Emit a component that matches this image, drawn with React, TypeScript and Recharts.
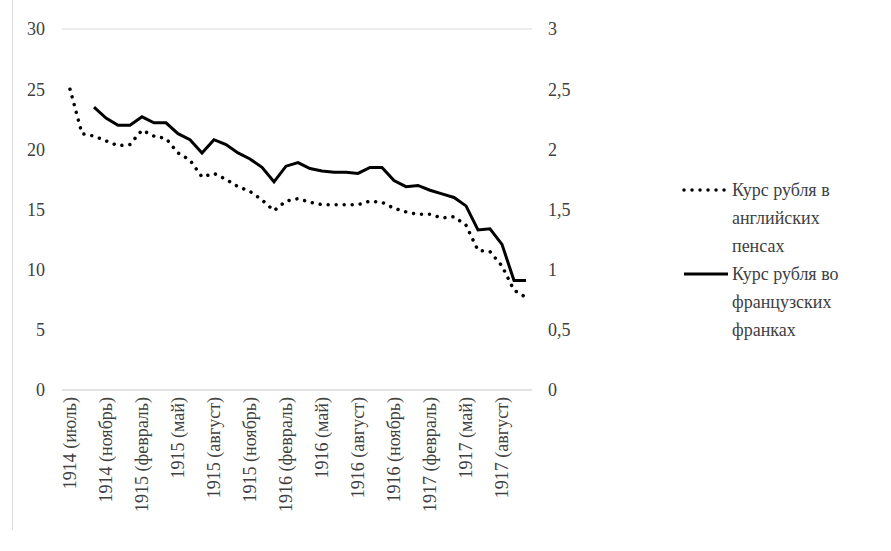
import { CartesianGrid, Legend, Line, LineChart, XAxis, YAxis } from 'recharts';

const months = [
  '1914 (июль)', '1914 (сентябрь)', '1914 (октябрь)', '1914 (ноябрь)', '1914 (декабрь)',
  '1915 (январь)', '1915 (февраль)', '1915 (март)', '1915 (апрель)', '1915 (май)',
  '1915 (июнь)', '1915 (июль)', '1915 (август)', '1915 (сентябрь)', '1915 (октябрь)',
  '1915 (ноябрь)', '1915 (декабрь)', '1916 (январь)', '1916 (февраль)', '1916 (март)',
  '1916 (апрель)', '1916 (май)', '1916 (июнь)', '1916 (июль)', '1916 (август)',
  '1916 (сентябрь)', '1916 (октябрь)', '1916 (ноябрь)', '1916 (декабрь)', '1917 (январь)',
  '1917 (февраль)', '1917 (март)', '1917 (апрель)', '1917 (май)', '1917 (июнь)',
  '1917 (июль)', '1917 (август)', '1917 (сентябрь)', '1917 (октябрь)',
];

// курс рубля в английских пенсах (левая ось)
const pence = [
  25.0, 21.3, 21.1, 20.7, 20.3, 20.4, 21.6, 21.1, 20.9, 19.7,
  19.1, 17.7, 18.0, 17.5, 16.9, 16.5, 15.8, 14.9, 15.7, 15.9,
  15.6, 15.4, 15.4, 15.4, 15.4, 15.7, 15.6, 15.1, 14.8, 14.6,
  14.6, 14.3, 14.4, 13.7, 11.6, 11.5, 10.3, 8.3, 7.7,
];

// курс рубля во французских франках (правая ось)
const francs = [
  null, null, 2.35, 2.26, 2.2, 2.2, 2.27, 2.22, 2.22, 2.13,
  2.08, 1.97, 2.08, 2.04, 1.97, 1.92, 1.85, 1.73, 1.86, 1.89,
  1.84, 1.82, 1.81, 1.81, 1.8, 1.85, 1.85, 1.74, 1.69, 1.7,
  1.66, 1.63, 1.6, 1.53, 1.33, 1.34, 1.21, 0.91, 0.91,
];

const leftTicks = [0, 5, 10, 15, 20, 25, 30];
const rightTicks = [0, 0.5, 1, 1.5, 2, 2.5, 3];

const seriesNames = {
  pence: 'Курс рубля в английских пенсах',
  francs: 'Курс рубля во французских франках',
};

const data = months.map((m, i) => ({ month: m, pence: pence[i], francs: francs[i] }));

const FONT = 'Liberation Serif, DejaVu Serif, serif';
const TEXT = '#404040';

const XTick = ({ x, y, payload }: any) => (
  <text
    x={x}
    y={y}
    transform={`rotate(-90 ${x} ${y})`}
    textAnchor="end"
    dominantBaseline="central"
    fontSize={18}
    fontFamily={FONT}
    fill={TEXT}
  >
    {payload.value}
  </text>
);

const LegendBox = ({ payload }: any) => (
  <div style={{ fontFamily: FONT, fontSize: 18, lineHeight: '28px', color: TEXT }}>
    {(payload || []).map((p: any) => (
      <div key={p.dataKey} style={{ display: 'flex', alignItems: 'flex-start' }}>
        <svg width={50} height={28} style={{ flex: 'none' }}>
          <line
            x1={2}
            x2={46}
            y1={14}
            y2={14}
            stroke="#000"
            strokeWidth={p.dataKey === 'pence' ? 3.5 : 3}
            strokeLinecap={p.dataKey === 'pence' ? 'round' : 'butt'}
            strokeDasharray={p.dataKey === 'pence' ? '0.01 8' : undefined}
          />
        </svg>
        <div style={{ width: 125 }}>{p.value}</div>
      </div>
    ))}
  </div>
);

export default function App() {
  return (
    <div style={{ position: 'absolute', left: 0, top: 0, width: 891, height: 551, background: '#fff' }}>
      <div style={{ position: 'absolute', left: 12, top: 0, width: 0, height: 530, borderLeft: '1px solid #d9d9d9' }} />
      <LineChart
        width={891}
        height={551}
        data={data}
        margin={{ top: 29, right: 0, left: 0, bottom: 0 }}
        style={{ fontFamily: FONT }}
      >
        <CartesianGrid vertical={false} stroke="#d9d9d9" strokeWidth={1} />
        <XAxis
          dataKey="month"
          interval={2}
          height={161}
          padding={{ left: 8, right: 6 }}
          axisLine={{ stroke: '#d9d9d9' }}
          tickLine={false}
          tickSize={0}
          tickMargin={7}
          tick={<XTick />}
        />
        <YAxis
          yAxisId="left"
          domain={[0, 30]}
          ticks={leftTicks}
          width={62}
          axisLine={false}
          tickLine={false}
          tickSize={0}
          tickMargin={17}
          tick={{ fontSize: 18, fill: TEXT, fontFamily: FONT }}
        />
        <YAxis
          yAxisId="right"
          orientation="right"
          domain={[0, 3]}
          ticks={rightTicks}
          width={359}
          axisLine={false}
          tickLine={false}
          tickSize={0}
          tickMargin={16}
          tickFormatter={(v: number) => String(v).replace('.', ',')}
          tick={{ fontSize: 18, fill: TEXT, fontFamily: FONT }}
        />
        <Legend
          layout="vertical"
          align="center"
          verticalAlign="middle"
          content={<LegendBox />}
          wrapperStyle={{ left: 682, top: 176, width: 185 }}
        />
        <Line
          yAxisId="left"
          dataKey="pence"
          name={seriesNames.pence}
          type="linear"
          stroke="#000"
          strokeWidth={3.5}
          strokeLinecap="round"
          strokeDasharray="0.01 8"
          dot={false}
          activeDot={false}
          isAnimationActive={false}
        />
        <Line
          yAxisId="right"
          dataKey="francs"
          name={seriesNames.francs}
          type="linear"
          stroke="#000"
          strokeWidth={3}
          dot={false}
          activeDot={false}
          isAnimationActive={false}
        />
      </LineChart>
    </div>
  );
}
